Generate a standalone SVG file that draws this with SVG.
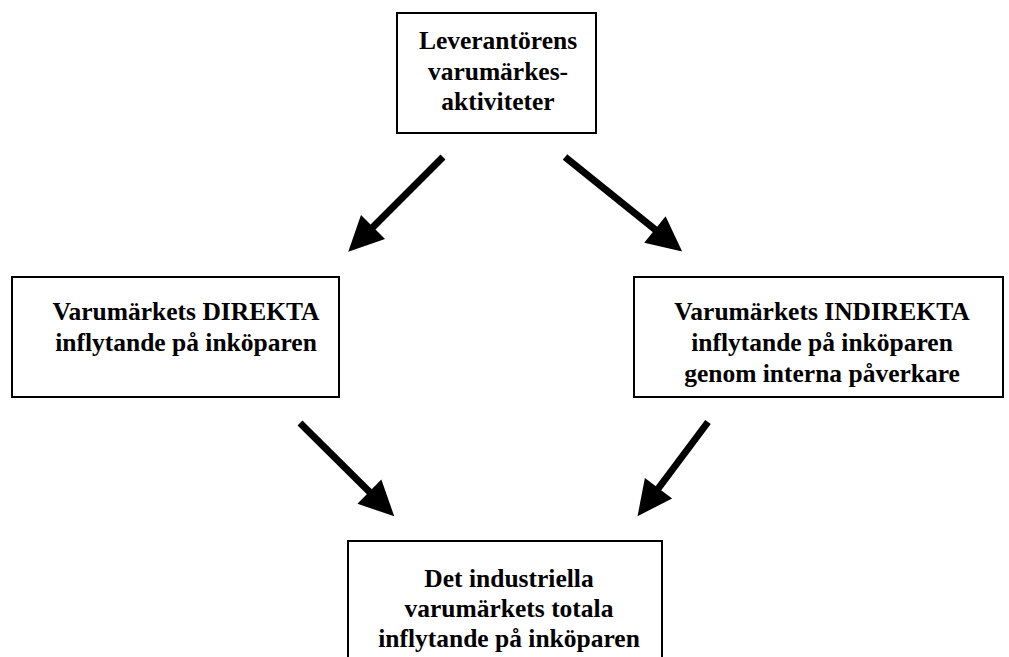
<svg xmlns="http://www.w3.org/2000/svg" width="1009" height="657" viewBox="0 0 1009 657">
  <style>
    .box { fill: #fff; stroke: #000; stroke-width: 2; }
    .lbl { font-family: "Liberation Serif", "Times New Roman", serif; font-weight: bold; font-size: 25.5px; fill: #000; text-anchor: middle; }
    .arrow { stroke: #000; stroke-width: 7; fill: none; }
  </style>
  <defs>
    <!-- solid triangular head; the shaft ends at the head's base -->
    <marker id="head" markerUnits="userSpaceOnUse" markerWidth="36" markerHeight="34" refX="1" refY="17" orient="auto" overflow="visible">
      <path d="M0,0 L35,17 L0,34 z" fill="#000"/>
    </marker>
  </defs>
  <rect width="1009" height="657" fill="#fff"/>

  <g id="node-leverantor">
    <rect class="box" x="397" y="13" width="199" height="120"/>
    <text class="lbl" x="498" y="49">Leverantörens</text>
    <text class="lbl" x="498" y="80">varumärkes-</text>
    <text class="lbl" x="498" y="110">aktiviteter</text>
  </g>

  <g id="node-direkta">
    <rect class="box" x="12" y="277" width="327" height="120"/>
    <text class="lbl" x="186" y="320">Varumärkets DIREKTA</text>
    <text class="lbl" x="186" y="351">inflytande på inköparen</text>
  </g>

  <g id="node-indirekta">
    <rect class="box" x="634" y="277" width="369" height="120"/>
    <text class="lbl" x="822" y="320">Varumärkets INDIREKTA</text>
    <text class="lbl" x="822" y="351">inflytande på inköparen</text>
    <text class="lbl" x="822" y="382">genom interna påverkare</text>
  </g>

  <g id="node-totala">
    <rect class="box" x="348" y="541" width="314" height="130"/>
    <text class="lbl" x="509" y="587">Det industriella</text>
    <text class="lbl" x="509" y="617">varumärkets totala</text>
    <text class="lbl" x="509" y="647">inflytande på inköparen</text>
  </g>

  <g id="connectors">
    <line class="arrow" x1="443" y1="157" x2="372.3" y2="227.7" marker-end="url(#head)"/>
    <line class="arrow" x1="565" y1="157" x2="655.7" y2="230.1" marker-end="url(#head)"/>
    <line class="arrow" x1="300" y1="423" x2="370.1" y2="492.4" marker-end="url(#head)"/>
    <line class="arrow" x1="708" y1="422" x2="657.9" y2="489.0" marker-end="url(#head)"/>
  </g>
</svg>
